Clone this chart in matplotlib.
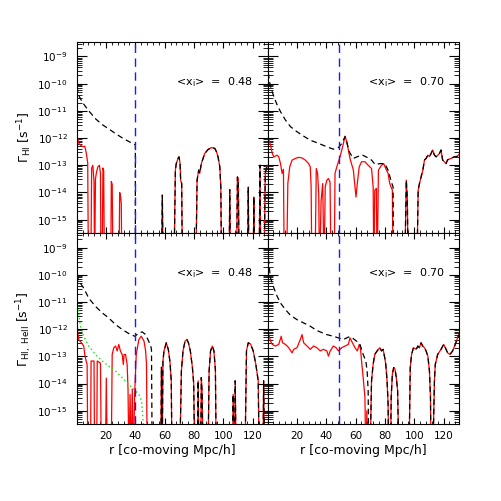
import numpy as np
import matplotlib.pyplot as plt
from matplotlib.ticker import MultipleLocator, LogLocator, FixedLocator, NullFormatter

# values: (r [Mpc/h], log10 Gamma [s^-1]); -17 = below the plot
tl_red = [(0.5, -12.0), (1.5, -12.2), (3.0, -12.28), (4.5, -12.32), (5.5, -12.3), (6.5, -12.55),
          (7.5, -12.9), (8.0, -17), (9.6, -17), (10.2, -13.1), (11.0, -13.0), (11.8, -13.6),
          (12.2, -17), (12.8, -13.5), (13.5, -13.25), (14.5, -13.05), (15.5, -13.0), (16.2, -13.3),
          (16.6, -17), (17.3, -17), (17.9, -13.1), (18.4, -13.2), (18.9, -17), (23.2, -17),
          (23.6, -13.6), (24.2, -13.7), (24.8, -17), (28.8, -17), (29.3, -14.0), (29.8, -14.1),
          (30.4, -14.4), (30.8, -17), (57.8, -17), (58.4, -14.1), (59.0, -17), (66.3, -17),
          (67.3, -13.18), (67.9, -12.94), (69.1, -12.75), (69.8, -12.69), (70.5, -12.94),
          (70.9, -13.55), (71.6, -13.67), (72.1, -17), (81.2, -17), (82.1, -13.55), (83.2, -13.18),
          (83.9, -13.3), (85.0, -12.94), (87.3, -12.57), (89.6, -12.42), (91.9, -12.35),
          (94.2, -12.38), (95.3, -12.5), (96.4, -12.69), (97.6, -13.06), (98.3, -13.8), (98.8, -17),
          (103.9, -17), (104.4, -13.9), (104.9, -17), (109.0, -17), (109.6, -13.43), (110.2, -13.5),
          (110.8, -17), (116.5, -17), (117.0, -13.8), (117.5, -17), (120.4, -17), (120.8, -14.17),
          (121.2, -17), (124.4, -17), (125.0, -13.0), (125.6, -17), (127.8, -17), (128.6, -13.3),
          (129.4, -13.1), (130.5, -13.0)]
tl_black = [(0.3, -10.1), (0.7, -10.29), (1.8, -10.48), (4.1, -10.7), (6.4, -10.87), (8.7, -11.03),
            (13.2, -11.31), (17.8, -11.52), (22.3, -11.68), (26.9, -11.85), (31.5, -12.01),
            (36.0, -12.14), (40.0, -12.25), (40.0, -17)]

tr_red = [(0.2, -11.95), (2.0, -12.26), (3.2, -12.57), (4.3, -12.69), (6.5, -12.63), (7.6, -12.69),
          (8.8, -12.94), (9.9, -13.3), (10.8, -13.15), (11.4, -17), (12.9, -17), (13.8, -13.67),
          (15.1, -13.06), (16.7, -12.81), (19.0, -12.75), (21.2, -12.71), (23.5, -12.73),
          (25.7, -12.81), (28.0, -12.94), (29.1, -13.06), (29.7, -13.8), (30.2, -17), (32.3, -17),
          (33.2, -13.12), (34.1, -13.3), (34.9, -14.1), (35.4, -17), (36.5, -14.3), (37.6, -13.67),
          (38.5, -17), (39.3, -13.8), (40.4, -13.55), (41.5, -13.49), (42.6, -13.62), (43.3, -17),
          (45.4, -17), (46.0, -13.3), (47.2, -13.06), (49.4, -12.69), (51.7, -12.2), (52.8, -11.93),
          (54.0, -12.14), (55.1, -12.44), (56.2, -12.75), (58.5, -13.18), (60.3, -14.17),
          (61.2, -13.67), (62.5, -13.06), (64.1, -12.87), (66.4, -12.87), (68.6, -13.0),
          (70.9, -13.12), (72.0, -13.8), (72.5, -17), (73.1, -13.92), (74.2, -13.85), (74.7, -17),
          (75.6, -13.18), (77.7, -13.0), (79.2, -12.94), (80.6, -13.12), (82.2, -13.3),
          (83.3, -13.67), (85.1, -13.92), (85.6, -17), (93.5, -17), (94.6, -13.55), (95.3, -14.2),
          (95.9, -17), (101.8, -17), (102.7, -13.92), (103.6, -13.67), (104.7, -13.43),
          (105.9, -13.18), (107.0, -12.81), (108.1, -12.75), (109.3, -12.63), (110.4, -12.68),
          (111.5, -12.57), (112.6, -12.44), (113.8, -12.63), (115.0, -12.69), (117.2, -12.57),
          (118.3, -12.44), (119.4, -12.81), (120.5, -12.87), (121.7, -12.94), (122.8, -12.8),
          (125.1, -12.75), (127.3, -12.69), (129.6, -12.67), (130.5, -12.6)]
tr_black = [(0.5, -9.6), (1.2, -9.9), (2.0, -10.11), (4.3, -10.48), (6.5, -10.78), (8.8, -11.03),
            (12.2, -11.34), (15.6, -11.58), (20.1, -11.77), (24.6, -11.93), (29.1, -12.08),
            (33.6, -12.17), (40.4, -12.32), (44.9, -12.41), (48.3, -12.35), (50.6, -12.2),
            (52.8, -11.95), (54.0, -12.14), (55.6, -12.5), (58.5, -12.75), (61.9, -12.67),
            (64.5, -12.62), (67.5, -12.7), (70.9, -12.81), (73.5, -12.98), (76.5, -12.94),
            (79.9, -12.94), (82.2, -13.18), (84.4, -13.61), (85.6, -13.8), (86.0, -17)]

bl_red = [(0.2, -11.95), (1.4, -12.38), (3.2, -12.5), (4.8, -12.62), (5.5, -12.93), (6.4, -13.17),
          (7.1, -13.3), (7.6, -17), (9.4, -17), (9.8, -13.17), (11.8, -13.17), (12.2, -17),
          (13.6, -17), (14.0, -13.17), (16.2, -13.25), (16.8, -17), (19.5, -17), (20.2, -13.8),
          (20.8, -17), (23.5, -17), (24.2, -12.93), (25.3, -12.68), (26.5, -12.62), (27.6, -12.8),
          (28.7, -12.56), (29.8, -12.8), (31.0, -12.93), (31.8, -13.3), (32.3, -12.93),
          (33.3, -12.93), (34.4, -13.3), (35.0, -14.2), (35.6, -17), (36.4, -14.4), (37.2, -17),
          (37.9, -14.2), (38.6, -17), (39.5, -14.4), (40.6, -12.93), (42.4, -12.38), (44.0, -12.26),
          (45.9, -12.44), (47.0, -12.8), (47.6, -13.3), (48.1, -17), (57.3, -17), (57.8, -13.4),
          (58.3, -17), (58.8, -13.2), (59.5, -12.8), (61.1, -12.5), (62.5, -12.75), (63.6, -13.2),
          (64.5, -13.9), (65.0, -17), (70.2, -17), (71.4, -13.54), (72.5, -12.8), (73.9, -12.44),
          (75.2, -12.38), (76.2, -12.5), (77.5, -12.8), (78.9, -13.4), (79.8, -14.0), (80.5, -17),
          (82.3, -17), (82.8, -13.9), (83.4, -17), (84.5, -17), (85.0, -13.78), (85.6, -14.4),
          (86.2, -17), (89.5, -17), (90.3, -13.54), (91.3, -12.8), (92.5, -12.62), (93.6, -12.8),
          (94.6, -13.5), (95.2, -17), (106.2, -17), (106.7, -14.4), (107.4, -17), (107.7, -17),
          (108.1, -13.9), (108.8, -17), (114.7, -17), (115.8, -12.8), (117.0, -12.5),
          (118.6, -12.55), (120.4, -12.8), (122.2, -13.3), (123.8, -13.9), (124.5, -17),
          (127.0, -17), (127.5, -13.9), (128.2, -17), (130.5, -17)]
bl_black = [(0.2, -10.0), (1.0, -10.15), (2.5, -10.31), (4.8, -10.49), (8.2, -10.86), (12.8, -11.16),
            (17.4, -11.4), (21.9, -11.59), (26.5, -11.83), (31.0, -12.01), (36.7, -12.2),
            (39.7, -12.26), (42.4, -12.14), (44.7, -12.1), (47.0, -12.2), (49.3, -12.47),
            (50.4, -12.59), (51.0, -12.75), (51.5, -17)]
bl_green = [(0.2, -10.98), (1.4, -11.46), (2.5, -11.89), (4.8, -12.26), (8.2, -12.62), (12.8, -12.93),
            (17.4, -13.17), (21.9, -13.36), (26.5, -13.54), (31.0, -13.78), (35.6, -14.03),
            (39.0, -14.21), (42.4, -14.39), (44.3, -14.64), (44.7, -15.0), (45.4, -15.49), (45.8, -16)]

br_red = [(0.2, -12.07), (2.0, -12.44), (3.2, -12.56), (5.4, -12.62), (7.6, -12.56), (9.3, -12.26),
          (10.2, -12.5), (12.2, -12.56), (14.4, -12.68), (16.7, -12.87), (17.8, -12.74),
          (20.1, -12.68), (22.3, -12.38), (23.5, -12.2), (24.6, -12.5), (26.9, -12.62),
          (29.1, -12.74), (31.4, -12.62), (33.6, -12.68), (35.9, -12.8), (38.1, -12.74),
          (40.4, -12.8), (41.5, -12.99), (42.7, -12.8), (44.9, -12.62), (46.7, -12.68),
          (48.3, -12.8), (50.6, -12.68), (52.8, -12.62), (55.1, -12.56), (56.2, -12.32),
          (57.3, -12.44), (59.6, -12.68), (61.2, -12.8), (62.5, -12.56), (63.4, -12.74),
          (64.1, -13.17), (65.2, -13.78), (66.4, -14.51), (67.0, -17), (67.7, -15.0), (68.3, -17),
          (69.8, -17), (70.9, -13.9), (72.0, -13.29), (73.1, -12.93), (74.7, -12.8), (76.5, -12.68),
          (77.7, -12.8), (78.8, -12.74), (79.9, -13.05), (80.6, -13.29), (81.5, -13.9),
          (82.2, -14.76), (82.6, -17), (83.8, -17), (84.3, -14.5), (85.1, -13.66), (86.0, -13.41),
          (86.9, -13.47), (87.8, -13.78), (88.7, -14.27), (89.6, -17), (96.4, -17), (97.3, -13.41),
          (98.2, -12.93), (99.5, -12.68), (101.4, -12.74), (102.5, -12.62), (103.6, -12.68),
          (104.7, -12.5), (105.8, -12.62), (107.0, -12.68), (108.1, -12.8), (109.3, -12.99),
          (110.4, -13.54), (111.1, -14.5), (111.5, -17), (112.6, -17), (113.8, -13.9),
          (114.4, -13.29), (116.0, -12.93), (118.3, -12.74), (120.1, -12.56), (121.2, -12.68),
          (122.8, -12.87), (124.4, -12.93), (126.2, -12.8), (128.0, -12.56), (129.6, -12.32),
          (130.5, -12.2)]
br_black = [(0.5, -9.4), (0.9, -9.63), (2.0, -10.12), (4.3, -10.49), (6.5, -10.79), (8.8, -11.04),
            (12.2, -11.28), (15.6, -11.49), (20.1, -11.65), (24.6, -11.77), (29.1, -11.89),
            (33.6, -12.05), (40.4, -12.2), (44.9, -12.26), (48.3, -12.32), (51.7, -12.38),
            (55.1, -12.29), (57.3, -12.3), (60.7, -12.44), (63.0, -12.56), (65.2, -12.93),
            (67.0, -13.17), (67.9, -13.54), (68.6, -14.27), (69.0, -17)]

x_ion = ['0.48', '0.70']
r_front = [40.0, 48.5]
y_decades = [-15, -14, -13, -12, -11, -10, -9]

panels = [
    (0, 0, tl_red, tl_black, None, x_ion[0], r_front[0]),
    (0, 1, tr_red, tr_black, None, x_ion[1], r_front[1]),
    (1, 0, bl_red, bl_black, bl_green, x_ion[0], r_front[0]),
    (1, 1, br_red, br_black, None, x_ion[1], r_front[1]),
]

fig, axes = plt.subplots(2, 2, figsize=(5.01, 5.01), dpi=100, sharex=True, sharey=True)
fig.subplots_adjust(left=0.154, right=0.916, bottom=0.153, top=0.916, wspace=0, hspace=0)

for row, col, red, black, green, xi, rf in panels:
    ax = axes[row, col]
    rr, gr = np.array(red).T
    rb, gb = np.array(black).T
    # past the end of its own part the dashed curve lies on top of the red one
    tail = rr > rb[-1]
    rb = np.concatenate([rb, rr[tail]])
    gb = np.concatenate([gb, gr[tail]])
    ax.plot(rr, 10.0 ** gr, color='red', lw=0.9)
    ax.plot(rb, 10.0 ** gb, color='black', lw=0.9, ls=(0, (4.5, 3)))
    if green is not None:
        rg, gg = np.array(green).T
        ax.plot(rg, 10.0 ** gg, color='#00ee00', lw=1.0, ls=(0, (1, 2)))
    ax.axvline(rf, color='#1a1aff', lw=1.0, ls=(0, (6, 4)))
    ax.text(0.925, 0.79, '<x$_{\\rm i}$>  =  ' + xi, transform=ax.transAxes,
            ha='right', va='center', fontsize=8)

    ax.set_yscale('log')
    ax.set_ylim(10 ** -15.5, 10 ** -8.47)
    ax.set_xlim(0.3, 130.5)
    ax.xaxis.set_major_locator(MultipleLocator(20))
    ax.xaxis.set_minor_locator(MultipleLocator(4))
    ax.yaxis.set_major_locator(FixedLocator(10.0 ** np.array(y_decades)))
    ax.yaxis.set_minor_locator(LogLocator(base=10, subs=np.arange(2, 10), numticks=20))
    ax.yaxis.set_minor_formatter(NullFormatter())
    ax.tick_params(which='both', direction='in', top=True, right=True, labelsize=7.5)
    ax.tick_params(axis='x', which='major', length=4, pad=5)
    ax.tick_params(axis='x', which='minor', length=2.2)
    ax.tick_params(axis='y', which='major', length=7, pad=7)
    ax.tick_params(axis='y', which='minor', length=3.5)

axes[0, 0].set_ylabel(r'$\Gamma_{\rm HI}$ [s$^{-1}$]', fontsize=9)
axes[1, 0].set_ylabel(r'$\Gamma_{\rm HI,\ HeII}$ [s$^{-1}$]', fontsize=9)
for ax in axes[:, 0]:
    ax.yaxis.set_label_coords(-0.225, 0.5)
for ax in axes[1, :]:
    ax.set_xlabel('r [co-moving Mpc/h]', fontsize=9)
    ax.xaxis.set_label_coords(0.5, -0.105)

plt.savefig('out.png', dpi=100)
